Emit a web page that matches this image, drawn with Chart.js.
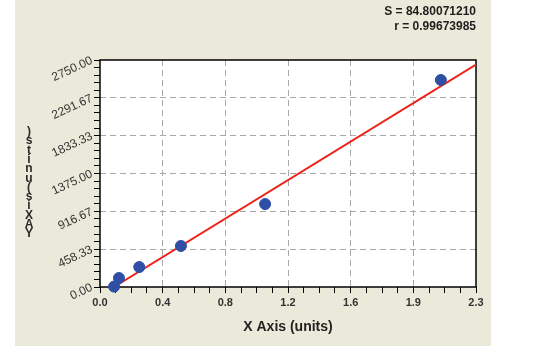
<!DOCTYPE html>
<html>
<head>
<meta charset="utf-8">
<script src="https://cdn.jsdelivr.net/npm/chart.js@4.4.1/dist/chart.umd.min.js"></script>
<style>
  html, body { margin: 0; padding: 0; background: #fff; }
  #wrap { width: 540px; height: 350px; position: relative; }
</style>
</head>
<body>
<div id="wrap"><canvas id="stdChart"></canvas></div>
<script>
// measured standards
const xData = [0.086, 0.116, 0.24, 0.495, 1.01, 2.085];
const yData = [5, 109, 242, 497, 1005, 2508];

// fitted line end points
const fitX = [0.085, 2.3];
const fitY = [0, 2695];

// axis ticks (majors) and their printed labels
const xTickValues = [0, 0.38333, 0.76667, 1.15, 1.53333, 1.91667, 2.3];
const xTickLabels = ['0.0', '0.4', '0.8', '1.2', '1.6', '1.9', '2.3'];
const yTickValues = [0, 458.33, 916.67, 1375, 1833.33, 2291.67, 2750];
const yTickLabels = ['0.00', '458.33', '916.67', '1375.00', '1833.33', '2291.67', '2750.00'];

const statLines = ['S = 84.80071210', 'r = 0.99673985'];
const xTitle = 'X Axis (units)';
const yTitle = 'Y Axis (units)';

const X_SUB = 4;
const Y_SUB = 5;

// majors plus evenly spaced minor ticks between them
function withMinors(majors, sub) {
    const out = [];
    for (let i = 0; i < majors.length - 1; i++) {
        const step = (majors[i + 1] - majors[i]) / sub;
        for (let k = 0; k < sub; k++) out.push({ value: majors[i] + k * step });
    }
    out.push({ value: majors[majors.length - 1] });
    return out;
}

const panelPlugin = {
    id: 'panel',
    beforeDraw(chart) {
        const { ctx, chartArea: a } = chart;
        ctx.save();
        ctx.fillStyle = '#ebe9d9';
        ctx.fillRect(15, 0, 476, 346);
        ctx.fillStyle = '#ffffff';
        ctx.fillRect(a.left, a.top, a.right - a.left, a.bottom - a.top);
        ctx.restore();
    },
    beforeDatasetsDraw(chart) {
        const { ctx, chartArea: a } = chart;
        ctx.save();
        ctx.strokeStyle = '#000';
        ctx.lineWidth = 1.5;
        ctx.strokeRect(a.left, a.top, a.right - a.left, a.bottom - a.top);
        ctx.restore();
    },
    afterDraw(chart) {
        const { ctx, chartArea: a } = chart;
        ctx.save();
        ctx.fillStyle = '#1e1e1e';
        ctx.font = 'bold 12px "Liberation Sans", Arial, sans-serif';
        ctx.textAlign = 'right';
        ctx.textBaseline = 'middle';
        ctx.fillText(statLines[0], a.right, 12);
        ctx.fillText(statLines[1], a.right, 27);

        // stacked y title, read bottom to top
        ctx.font = 'bold 12px "Liberation Sans", Arial, sans-serif';
        ctx.textAlign = 'center';
        ctx.fillStyle = '#2a2a2a';
        const chars = yTitle.replace(/ /g, '').split('');
        let y = 234;
        chars.forEach(c => {
            ctx.fillText(c === 'x' ? 'X' : c, 29, y);
            y -= 9.3;
        });
        ctx.restore();
    }
};

new Chart(document.getElementById('stdChart'), {
    type: 'scatter',
    data: {
        datasets: [{
            type: 'line',
            data: fitX.map((x, i) => ({ x, y: fitY[i] })),
            borderColor: '#ee2218',
            borderWidth: 2,
            pointRadius: 0,
            fill: false,
            tension: 0,
            order: 2
        }, {
            data: xData.map((x, i) => ({ x, y: yData[i] })),
            backgroundColor: '#2e4fa3',
            borderColor: '#2e4fa3',
            pointRadius: 5.5,
            pointHoverRadius: 5.5,
            clip: false,
            order: 1
        }]
    },
    options: {
        responsive: true,
        maintainAspectRatio: false,
        animation: false,
        layout: { padding: { top: 60, right: 64, bottom: 0, left: 0 } },
        plugins: { legend: { display: false }, tooltip: { enabled: false } },
        scales: {
            x: {
                type: 'linear',
                min: 0,
                max: 2.3,
                afterBuildTicks: axis => { axis.ticks = withMinors(xTickValues, X_SUB); },
                afterFit: axis => { axis.height = 63; },
                ticks: {
                    autoSkip: false,
                    maxRotation: 0,
                    padding: 3,
                    color: '#333',
                    font: { family: '"Liberation Sans", Arial, sans-serif', size: 11, weight: 'bold' },
                    callback: (v, i) => i % X_SUB === 0 ? xTickLabels[i / X_SUB] : ''
                },
                grid: {
                    color: c => (c.index % X_SUB === 0 && c.index > 0 && c.index < (xTickValues.length - 1) * X_SUB) ? '#a8a8a8' : 'rgba(0,0,0,0)',
                    lineWidth: 1,
                    tickColor: '#000',
                    tickLength: 6,
                    tickWidth: 1
                },
                border: { display: false, dash: [6, 4] },
                title: {
                    display: true,
                    text: xTitle,
                    color: '#222',
                    font: { family: '"Liberation Sans", Arial, sans-serif', size: 14, weight: 'bold' },
                    padding: { top: 0, bottom: 14 }
                }
            },
            y: {
                type: 'linear',
                min: 0,
                max: 2750,
                afterBuildTicks: axis => { axis.ticks = withMinors(yTickValues, Y_SUB); },
                afterFit: axis => { axis.width = 100; },
                ticks: {
                    autoSkip: false,
                    minRotation: 25,
                    maxRotation: 25,
                    padding: 2,
                    color: '#333',
                    font: { family: '"Liberation Sans", Arial, sans-serif', size: 12 },
                    callback: (v, i) => i % Y_SUB === 0 ? yTickLabels[i / Y_SUB] : ''
                },
                grid: {
                    color: c => (c.index % Y_SUB === 0 && c.index > 0 && c.index < (yTickValues.length - 1) * Y_SUB) ? '#a8a8a8' : 'rgba(0,0,0,0)',
                    lineWidth: 1,
                    tickColor: '#000',
                    tickLength: 6,
                    tickWidth: 1
                },
                border: { display: false, dash: [6, 4] }
            }
        }
    },
    plugins: [panelPlugin]
});
</script>
</body>
</html>
